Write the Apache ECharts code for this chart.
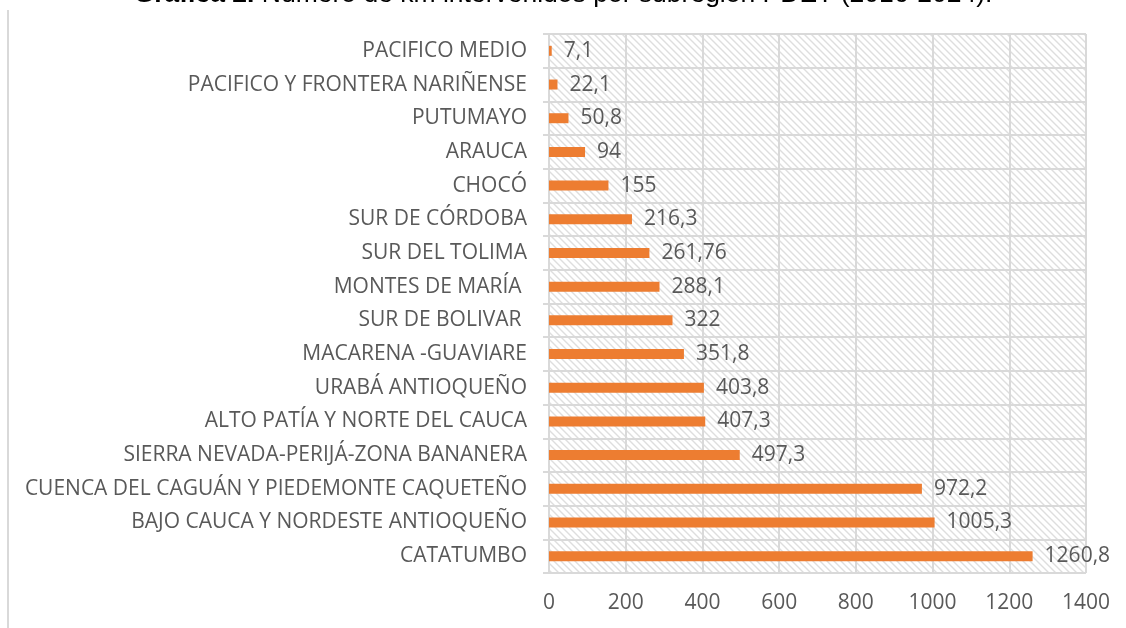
<!DOCTYPE html>
<html>
<head>
<meta charset="utf-8">
<script src="https://cdn.jsdelivr.net/npm/echarts@6/dist/echarts.min.js"></script>
<style>
  html, body { margin: 0; padding: 0; background: #fff; }
  #main { width: 1126px; height: 628px; }
</style>
</head>
<body>
<div id="main"></div>
<script>
// subregiones PDET, de arriba hacia abajo como en la gráfica
var subregiones = [
  'PACIFICO MEDIO',
  'PACIFICO Y FRONTERA NARIÑENSE',
  'PUTUMAYO',
  'ARAUCA',
  'CHOCÓ',
  'SUR DE CÓRDOBA',
  'SUR DEL TOLIMA',
  'MONTES DE MARÍA ',
  'SUR DE BOLIVAR ',
  'MACARENA -GUAVIARE',
  'URABÁ ANTIOQUEÑO',
  'ALTO PATÍA Y NORTE DEL CAUCA',
  'SIERRA NEVADA-PERIJÁ-ZONA BANANERA',
  'CUENCA DEL CAGUÁN Y PIEDEMONTE CAQUETEÑO',
  'BAJO CAUCA Y NORDESTE ANTIOQUEÑO',
  'CATATUMBO'
];
var km = [7.1, 22.1, 50.8, 94, 155, 216.3, 261.76, 288.1, 322, 351.8, 403.8, 407.3, 497.3, 972.2, 1005.3, 1260.8];
var ejeMin = 0;
var ejeMax = 1400;
var ejePaso = 200;

// trama de rayas diagonales para el fondo del área de trazado
var tile = document.createElement('canvas');
tile.width = 7; tile.height = 7;
var ctx = tile.getContext('2d');
ctx.fillStyle = '#ffffff';
ctx.fillRect(0, 0, 7, 7);
ctx.strokeStyle = '#dedede';
ctx.lineWidth = 1.4;
ctx.beginPath();
ctx.moveTo(-2, -2); ctx.lineTo(9, 9);
ctx.moveTo(-9, -2); ctx.lineTo(2, 9);
ctx.moveTo(5, -2); ctx.lineTo(16, 9);
ctx.stroke();

var myChart = echarts.init(document.getElementById('main'));
var gris = '#595959';
var fuente = 'Open Sans';
var tam = 21;
var option = {
  animation: false,
  title: {
    text: '{b|Gráfica 2.} Número de km intervenidos por subregión PDET (2016-2024).',
    left: 'center',
    top: -24,
    textStyle: {
      fontFamily: 'Liberation Sans',
      fontSize: 26.5,
      fontWeight: 'normal',
      color: '#000',
      rich: { b: { fontFamily: 'Liberation Sans', fontSize: 26.5, fontWeight: 'bold', color: '#000' } }
    }
  },
  graphic: [{
    type: 'rect',
    shape: { x: 7, y: 10, width: 2, height: 620 },
    style: { fill: '#d9d9d9' }
  }],
  grid: {
    left: 549,
    right: 40,
    top: 34,
    bottom: 55,
    show: true,
    borderWidth: 0,
    backgroundColor: { image: tile, repeat: 'repeat' }
  },
  xAxis: {
    type: 'value',
    min: ejeMin,
    max: ejeMax,
    interval: ejePaso,
    axisLine: { show: false },
    axisTick: { show: false },
    splitLine: { lineStyle: { color: '#d9d9d9', width: 2 } },
    axisLabel: {
      color: gris, fontSize: tam, fontFamily: fuente, margin: 20,
      formatter: function (v) { return String(v); }
    }
  },
  yAxis: {
    type: 'category',
    inverse: true,
    data: subregiones,
    axisLine: { show: true, lineStyle: { color: '#d9d9d9', width: 2 } },
    axisTick: { show: true, length: 6, lineStyle: { color: '#d9d9d9', width: 2 } },
    splitLine: { show: true, lineStyle: { color: '#d9d9d9', width: 2 } },
    axisLabel: { color: gris, fontSize: tam, fontFamily: fuente, margin: 22 }
  },
  series: [{
    type: 'bar',
    data: km,
    barWidth: 10,
    itemStyle: { color: '#ed7d31' },
    label: {
      show: true,
      position: 'right',
      distance: 12,
      color: gris,
      fontSize: tam,
      fontFamily: fuente,
      formatter: function (p) { return String(p.value).replace('.', ','); }
    }
  }]
};
myChart.setOption(option);
</script>
</body>
</html>
